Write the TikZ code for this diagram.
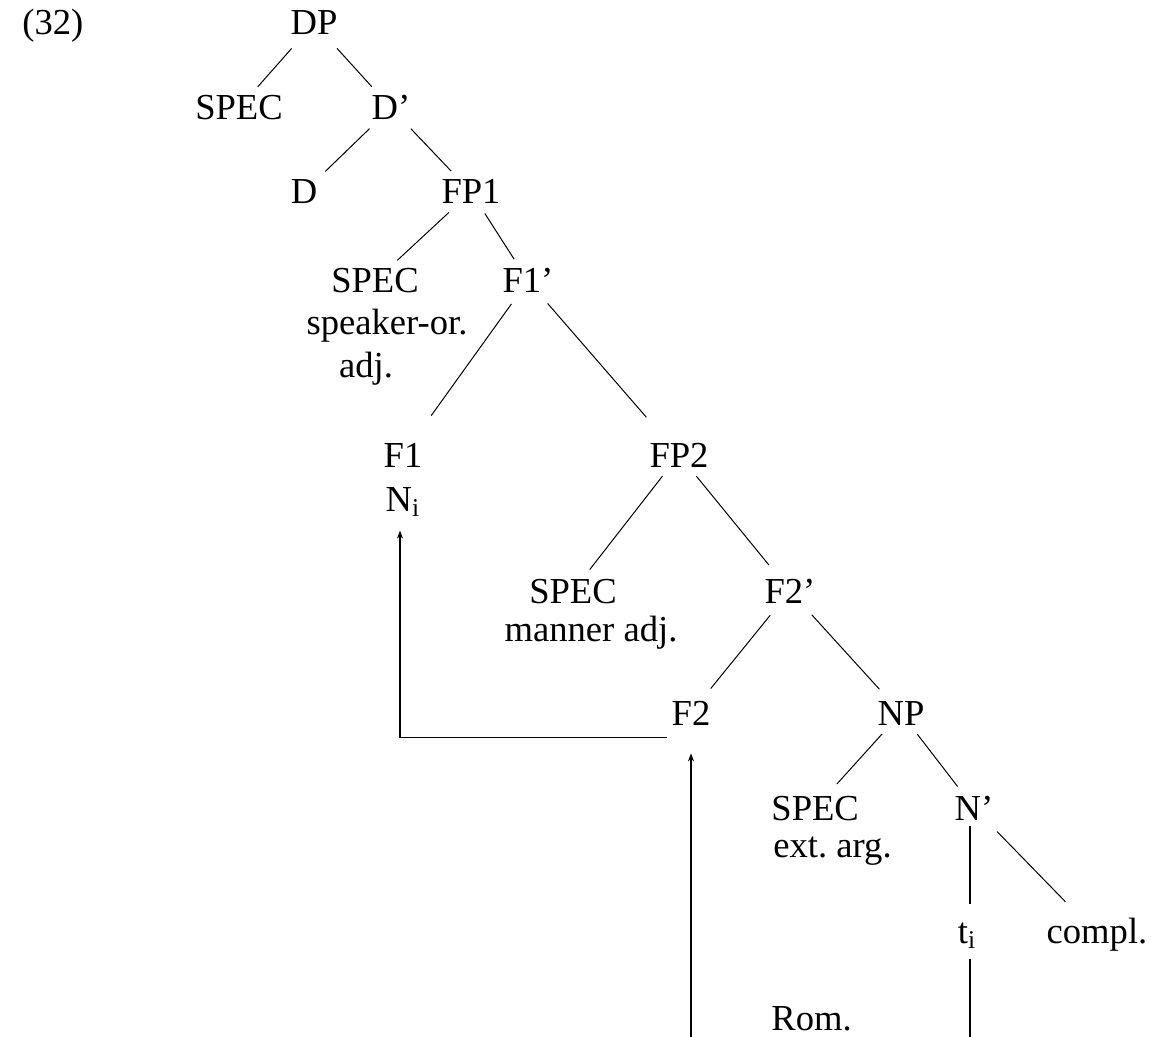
\documentclass[tikz,border=0pt]{standalone}
\usepackage{fontspec}
\setmainfont{Liberation Serif}
\usetikzlibrary{arrows.meta}
\tikzset{
  lbl/.style={anchor=base, inner sep=2pt, font=\fontsize{18.3}{21}\selectfont\frenchspacing},
  branch/.style={line width=0.5pt, shorten <=3pt, shorten >=3pt},
  move/.style={-{Stealth[length=4pt,width=3pt]}, line width=0.8pt},
  trace/.style={line width=0.7pt}
}

\begin{document}
\begin{tikzpicture}[x=0.5pt, y=-0.5pt]
    \useasboundingbox (0,0) rectangle (1151,1037);
    % example number
    \node[lbl, anchor=base west] (exno) at (18,35) {(32)};

    % DP and D'
    \node[lbl] (DP) at (314,35) {DP};
    \node[lbl] (specD) at (239,120) {SPEC};
    \node[lbl] (Dbar) at (391,120) {D’};
    \node[lbl] (D) at (304,204) {D};
    \node[lbl] (FPone) at (471,204) {FP1};

    % FP1 layer
    \node[lbl] (specFone) at (375,293) {SPEC};
    \node[lbl] (speaker) at (387,335) {speaker-or.};
    \node[lbl] (adjA) at (366,378) {adj.};
    \node[lbl] (Fonebar) at (528,293) {F1’};
    \node[lbl] (Fone) at (403,467) {F1};
    \node[lbl] (Ni) at (403,511) {N\textsubscript{i}};
    \node[lbl] (FPtwo) at (679,467) {FP2};

    % FP2 layer
    \node[lbl] (specFtwo) at (573,603) {SPEC};
    \node[lbl] (manner) at (591,641) {manner adj.};
    \node[lbl] (Ftwobar) at (790,603) {F2’};
    \node[lbl] (Ftwo) at (691,725) {F2};
    \node[lbl] (NP) at (901,725) {NP};

    % NP layer
    \node[lbl, anchor=base west] (specN) at (767,820) {SPEC};
    \node[lbl, anchor=base west] (extarg) at (769,857) {ext. arg.};
    \node[lbl, anchor=base west] (Rom) at (767,1030) {Rom.};
    \node[lbl] (Nbar) at (974,820) {N’};
    \node[lbl] (ti) at (967,943) {t\textsubscript{i}};
    \node[lbl] (compl) at (1097,943) {compl.};

    % free ends at the lower edge
    \coordinate (Ffoot) at (691,1037);
    \coordinate (tfoot) at (970,1037);

    % branches
    \draw[branch, shorten <=6pt] (DP) -- (specD);
    \draw[branch, shorten <=6pt] (DP) -- (Dbar);
    \draw[branch] (Dbar) -- (D);
    \draw[branch] (Dbar) -- (FPone);
    \draw[branch] (FPone) -- (specFone);
    \draw[branch] (FPone) -- (Fonebar);
    \draw[branch, shorten <=4pt, shorten >=14pt] (Fonebar) -- (Fone);
    \draw[branch, shorten <=4pt, shorten >=14pt] (Fonebar) -- (FPtwo);
    \draw[branch] (FPtwo) -- (specFtwo);
    \draw[branch, shorten >=6pt] (FPtwo) -- (Ftwobar);
    \draw[branch, shorten <=5pt, shorten >=5pt] (Ftwobar) -- (Ftwo);
    \draw[branch, shorten <=5pt, shorten >=5pt] (Ftwobar) -- (NP);
    \draw[branch, shorten >=5pt] (NP) -- (specN);
    \draw[branch] (NP) -- (Nbar);
    \draw[branch, shorten <=5pt, shorten >=8pt] (Nbar) -- (compl);

    % trace of N
    \draw[trace, shorten <=1pt, shorten >=7pt] (Nbar.south -| tfoot) -- (ti.north -| tfoot);
    \draw[trace, shorten <=3pt] (ti.south -| tfoot) -- (tfoot);

    % head movement
    \draw[move, shorten >=12pt] (Ffoot) -- (Ftwo);
    \draw[move, shorten >=5pt] ([yshift=-4pt]Ftwo.south west) -| ([xshift=-1.5pt]Ni.south);
\end{tikzpicture}
\end{document}
